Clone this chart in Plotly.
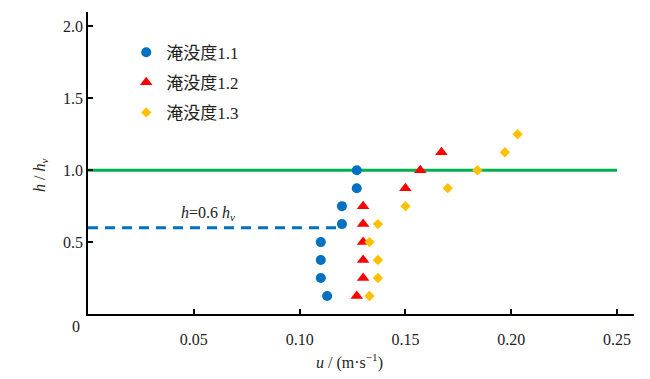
import plotly.graph_objects as go

# ---- data ----
h_11 = [0.125, 0.25, 0.375, 0.5, 0.625, 0.75, 0.875, 1.0]
u_11 = [0.113, 0.110, 0.110, 0.110, 0.120, 0.120, 0.127, 0.127]

h_12 = [0.125, 0.25, 0.375, 0.5, 0.625, 0.75, 0.875, 1.0, 1.125]
u_12 = [0.127, 0.130, 0.130, 0.130, 0.130, 0.130, 0.150, 0.157, 0.167]

h_13 = [0.125, 0.25, 0.375, 0.5, 0.625, 0.75, 0.875, 1.0, 1.125, 1.25]
u_13 = [0.133, 0.137, 0.137, 0.133, 0.137, 0.150, 0.170, 0.184, 0.197, 0.203]

series_names = ["淹没度1.1", "淹没度1.2", "淹没度1.3"]

ref_line_x = [0, 0.25]
ref_line_y = [1.0, 1.0]
dash_line_x = [0, 0.12]
dash_line_y = [0.6, 0.6]

x_ticks = [0.05, 0.10, 0.15, 0.20, 0.25]
x_ticktext = ["0.05", "0.10", "0.15", "0.20", "0.25"]
y_ticks = [0.5, 1.0, 1.5, 2.0]
y_ticktext = ["0.5", "1.0", "1.5", "2.0"]

BLUE = "#0070C0"
RED = "#FF0000"
ORANGE = "#FFC000"
GREEN = "#00B050"
FONT = "Times New Roman, Liberation Serif, DejaVu Serif, serif"
FONT_CJK = "Times New Roman, Liberation Serif, DejaVu Serif, Noto Sans CJK SC, serif"

fig = go.Figure()
fig.add_trace(go.Scatter(x=ref_line_x, y=ref_line_y, mode="lines",
                         line=dict(color=GREEN, width=3), showlegend=False, hoverinfo="skip"))
fig.add_trace(go.Scatter(x=dash_line_x, y=dash_line_y, mode="lines",
                         line=dict(color=BLUE, width=3, dash="10px,7px"), showlegend=False, hoverinfo="skip"))

fig.add_trace(go.Scatter(x=u_11, y=h_11, mode="markers", name=series_names[0], legendgroup="a",
                         marker=dict(symbol="circle", size=10, color=BLUE)))
fig.add_trace(go.Scatter(x=u_12, y=h_12, mode="markers", name=series_names[1], legendgroup="b",
                         marker=dict(symbol="triangle-up", size=11, color=RED)))
fig.add_trace(go.Scatter(x=u_13, y=h_13, mode="markers", name=series_names[2], legendgroup="c",
                         marker=dict(symbol="diamond", size=8, color=ORANGE)))

fig.update_layout(
    width=650, height=379,
    margin=dict(l=80, r=24, t=4, b=73),
    paper_bgcolor="white", plot_bgcolor="white",
    font=dict(family=FONT, size=16, color="#222"),
    legend=dict(x=0.07, y=0.925, xanchor="left", yanchor="top",
                bgcolor="rgba(0,0,0,0)", traceorder="grouped", tracegroupgap=5,
                font=dict(size=17, family=FONT_CJK), itemwidth=30),
    showlegend=True,
)
fig.update_xaxes(range=[0, 0.258], showline=True, linecolor="black", linewidth=1.5,
                 showgrid=False, zeroline=False, ticks="inside", ticklen=5, tickwidth=1.5,
                 tickcolor="black", tickvals=x_ticks, ticktext=x_ticktext,
                 ticklabelstandoff=10, tickfont=dict(family=FONT, size=16))
fig.update_yaxes(range=[0, 2.1], showline=True, linecolor="black", linewidth=1.5,
                 showgrid=False, zeroline=False, ticks="inside", ticklen=5, tickwidth=1.5,
                 tickcolor="black", tickvals=y_ticks, ticktext=y_ticktext,
                 ticklabelstandoff=0, tickfont=dict(family=FONT, size=16))

fig.add_annotation(x=0, y=0, xref="x", yref="y", text="0", showarrow=False,
                   xanchor="right", yanchor="middle", xshift=-6, yshift=-12,
                   font=dict(size=16, family=FONT))
fig.add_annotation(x=0.0565, y=0.70, xref="x", yref="y",
                   text="<i>h</i>=0.6 <i>h</i><sub><i>v</i></sub>", showarrow=False,
                   font=dict(size=16, family=FONT))
fig.add_annotation(x=0.1237, y=-0.115, xref="x", yref="paper",
                   text="<i>u</i> / (m·s<sup>−1</sup>)", showarrow=False,
                   yanchor="top", font=dict(size=16, family=FONT))
fig.add_annotation(x=-0.107, y=0.457, xref="paper", yref="paper",
                   text="<i>h</i> / <i>h</i><sub><i>v</i></sub>", showarrow=False,
                   textangle=-90, font=dict(size=16, family=FONT))

fig.write_html("out.html")
